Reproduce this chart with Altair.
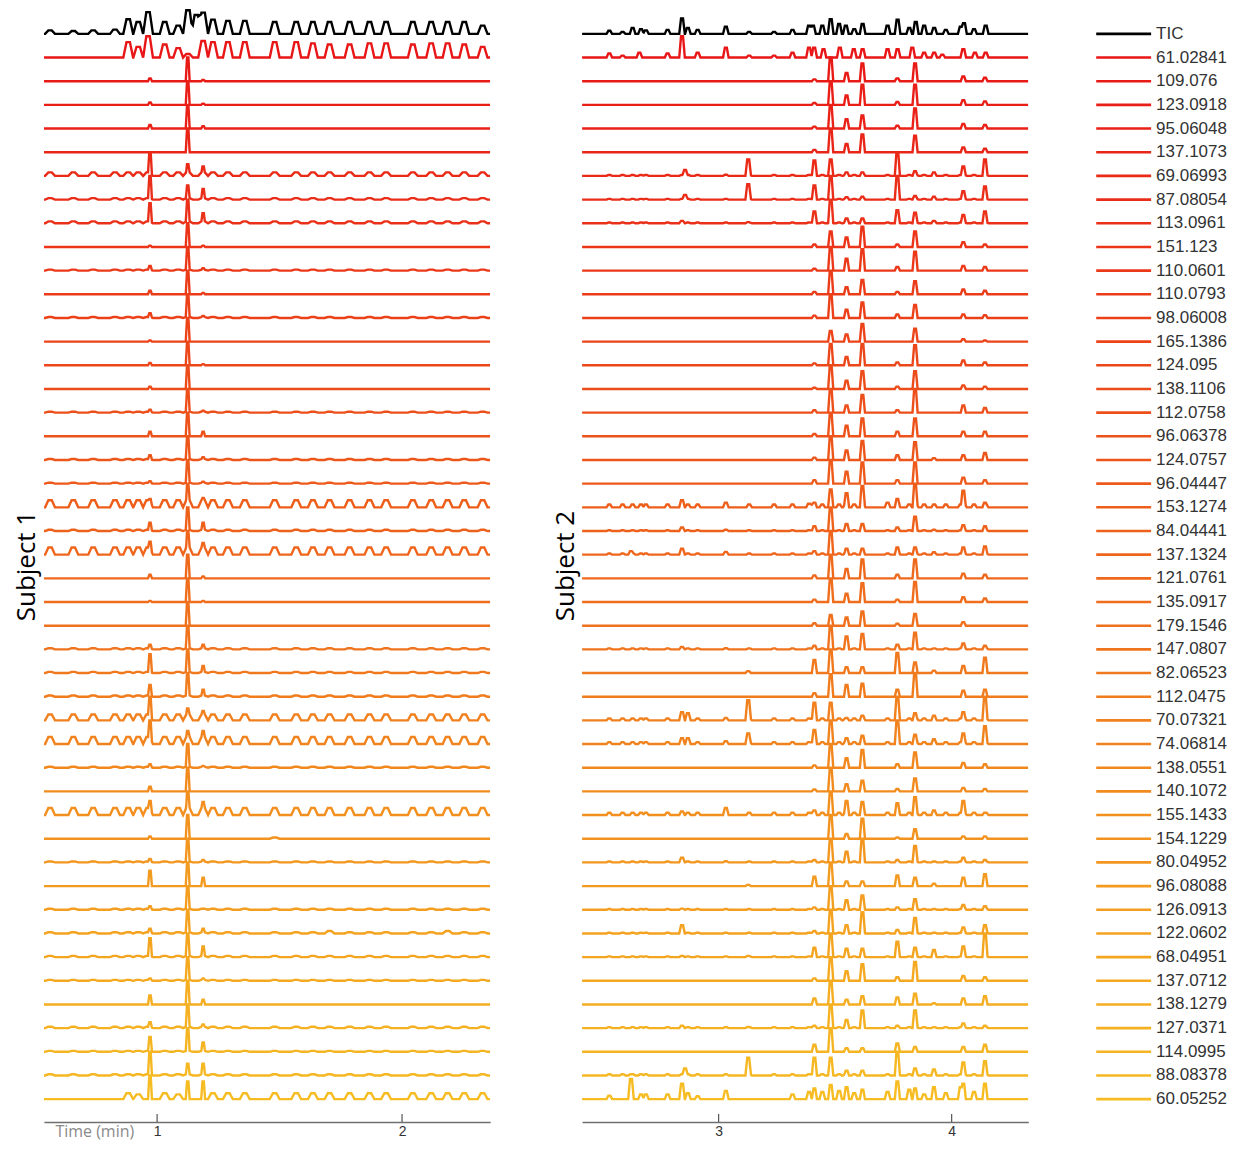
import altair as alt
import pandas as pd

# ---------------- data ----------------
LABELS = ["TIC", "61.02841", "109.076", "123.0918", "95.06048", "137.1073", "69.06993", "87.08054",
          "113.0961", "151.123", "110.0601", "110.0793", "98.06008", "165.1386", "124.095", "138.1106",
          "112.0758", "96.06378", "124.0757", "96.04447", "153.1274", "84.04441", "137.1324", "121.0761",
          "135.0917", "179.1546", "147.0807", "82.06523", "112.0475", "70.07321", "74.06814", "138.0551",
          "140.1072", "155.1433", "154.1229", "80.04952", "96.08088", "126.0913", "122.0602", "68.04951",
          "137.0712", "138.1279", "127.0371", "114.0995", "88.08378", "60.05252"]

# ---- Subject 1 (left panel) ----
LEFT_RANGE = [0.538, 2.360]
LEFT_TICKS = [1, 2]
LEFT_MAIN_TIMES = [0.971, 1.125, 1.188]
LEFT_MAIN = [
    [0, 0, 0], [0, 0, 0],
    [0.12, 1.0, 0.05], [0.10, 1.0, 0.05], [0.15, 1.0, 0.10], [0, 1.0, 0],
    [1.0, 0.5, 0.4], [1.0, 0.6, 0.45], [0.85, 1.0, 0.42], [0.05, 1.0, 0.05],
    [0.2, 1.0, 0.1], [0.15, 1.0, 0.06], [0.2, 1.0, 0.08], [0.05, 1.0, 0], [0.1, 1.0, 0.05],
    [0.1, 1.0, 0], [0.12, 1.0, 0.08], [0.2, 1.0, 0.2], [0.2, 1.0, 0.12], [0.1, 1.0, 0.08],
    [0.35, 1.0, 0.4], [0.35, 1.0, 0.35], [0.55, 1.0, 0.5], [0.15, 1.0, 0.08], [0.05, 1.0, 0.05],
    [0, 1.0, 0], [0.2, 1.0, 0.2], [0.8, 1.0, 0.3], [0.5, 1.0, 0.3], [1.0, 0.5, 0.4],
    [1.0, 0.55, 0.55], [0.15, 1.0, 0.08], [0.2, 1.0, 0], [0.6, 1.0, 0.55], [0.1, 1.0, 0],
    [0.15, 1.0, 0.1], [0.65, 1.0, 0.35], [0.15, 1.0, 0], [0.2, 1.0, 0.2], [0.8, 1.0, 0.45],
    [0.1, 1.0, 0.1], [0.38, 1.0, 0.2], [0.25, 1.0, 0.15], [0.63, 1.0, 0.4], [1.0, 0.5, 0.5],
    [1.0, 0.75, 0.75],
]
LEFT_BG_TIMES = [0.563, 0.658, 0.739, 0.828, 0.882, 0.923, 0.963, 1.031, 1.086, 1.126, 1.188, 1.228,
                 1.289, 1.358, 1.480, 1.568, 1.636, 1.704, 1.786, 1.867, 1.935, 2.044, 2.119, 2.186,
                 2.254, 2.329]
LEFT_BG_AMP = [0, 0, 0, 0, 0, 0, 0.15, 0.06, 0.08, 0, 0.04, 0, 0.04, 0, 0, 0, 0.04, 0, 0.04, 0.04,
               0.3, 0.05, 0.3, 0, 0, 0, 0.05, 0.05, 0.05, 0.25, 0.3, 0.04, 0, 0.3, 0, 0.04, 0, 0.04,
               0.05, 0.05, 0.04, 0, 0.06, 0.04, 0.05, 0]
LEFT_EXTRA = {
    0: {0.563: 0.15, 0.658: 0.12, 0.739: 0.15, 0.828: 0.18, 0.882: 0.62, 0.923: 0.5, 0.963: 0.92,
        1.031: 0.5, 1.086: 0.35, 1.126: 1.0, 1.16: 0.8, 1.188: 0.9, 1.228: 0.6, 1.289: 0.55,
        1.358: 0.55, 1.480: 0.5, 1.568: 0.5, 1.636: 0.5, 1.704: 0.5, 1.786: 0.5, 1.867: 0.5,
        1.935: 0.5, 2.044: 0.5, 2.119: 0.5, 2.186: 0.5, 2.254: 0.5, 2.329: 0.35},
    1: {0.882: 0.65, 0.923: 0.45, 0.963: 0.9, 1.031: 0.55, 1.086: 0.4, 1.126: 0.15, 1.188: 0.7,
        1.228: 0.65, 1.289: 0.65, 1.358: 0.65, 1.480: 0.65, 1.568: 0.65, 1.636: 0.6, 1.704: 0.55,
        1.786: 0.55, 1.867: 0.6, 1.935: 0.6, 2.044: 0.55, 2.119: 0.6, 2.186: 0.6, 2.254: 0.55,
        2.329: 0.45},
    34: {1.480: 0.05},
    38: {1.704: 0.1, 2.186: 0.1},
    45: {0.882: 0.25, 0.923: 0.2, 1.031: 0.25, 1.086: 0.2, 1.228: 0.25, 1.289: 0.25, 1.358: 0.25,
         1.480: 0.25, 1.568: 0.25, 1.636: 0.25, 1.704: 0.25, 1.786: 0.25, 1.867: 0.25, 1.935: 0.25,
         2.044: 0.25, 2.119: 0.25, 2.186: 0.25, 2.254: 0.25, 2.329: 0.25},
}

# ---- Subject 2 (right panel) ----
RIGHT_RANGE = [2.414, 4.329]
RIGHT_TICKS = [3, 4]
RIGHT_MAIN_TIMES = [3.411, 3.481, 3.549, 3.617, 3.767, 3.843, 3.924, 4.050, 4.143]
RIGHT_MAIN = [
    [0] * 9, [0] * 9,
    [0.08, 1.0, 0.35, 0.75, 0.12, 0.75, 0, 0.2, 0.15],
    [0.08, 1.0, 0.4, 0.85, 0.12, 0.85, 0, 0.2, 0.15],
    [0.08, 1.0, 0.4, 0.55, 0.12, 0.85, 0, 0.2, 0.15],
    [0.1, 1.0, 0.35, 0.75, 0, 0.7, 0, 0.2, 0.15],
    [0.65, 0.7, 0.15, 0.15, 1.0, 0.2, 0.15, 0.4, 0.7],
    [0.6, 1.0, 0.1, 0.12, 1.0, 0.15, 0.12, 0.35, 0.55],
    [0.5, 1.0, 0.2, 0.2, 0.55, 0.45, 0.1, 0.35, 0.5],
    [0.1, 0.65, 0.4, 0.85, 0.1, 0.65, 0, 0.2, 0.1],
    [0.08, 1.0, 0.5, 0.9, 0.15, 0.8, 0, 0.2, 0.15],
    [0.1, 1.0, 0.3, 0.6, 0.1, 0.55, 0, 0.2, 0.15],
    [0.1, 1.0, 0.35, 0.65, 0.15, 0.55, 0, 0.15, 0.12],
    [0, 0.45, 0.3, 0.75, 0, 0.55, 0, 0.1, 0.05],
    [0.08, 0.9, 0.35, 0.9, 0.12, 0.85, 0, 0.2, 0.12],
    [0.05, 1.0, 0.35, 0.75, 0.1, 0.75, 0, 0.15, 0.1],
    [0.1, 1.0, 0.3, 0.75, 0.1, 1.0, 0, 0.3, 0.2],
    [0.1, 1.0, 0.45, 0.75, 0.2, 0.75, 0, 0.2, 0.2],
    [0.1, 1.0, 0.4, 0.8, 0.2, 0.75, 0.08, 0.2, 0.3],
    [0.15, 1.0, 0.5, 0.9, 0.15, 0.9, 0, 0.25, 0.15],
    [0.2, 0.75, 0.6, 0.9, 0.35, 1.0, 0.1, 0.7, 0.2],
    [0.2, 1.0, 0.3, 0.3, 0.15, 0.6, 0.05, 0.25, 0.2],
    [0.15, 1.0, 0.25, 0.25, 0.3, 0.3, 0.1, 0.3, 0.35],
    [0.12, 1.0, 0.4, 0.8, 0.15, 0.8, 0, 0.2, 0.15],
    [0.1, 1.0, 0.35, 0.8, 0.1, 0.85, 0, 0.2, 0.15],
    [0.1, 0.45, 0.35, 0.6, 0.08, 0.5, 0, 0.15, 0],
    [0.15, 1.0, 0.55, 0.65, 0.2, 0.7, 0, 0.25, 0.15],
    [0.55, 1.0, 0.25, 0.25, 0.85, 0.45, 0.1, 0.3, 0.65],
    [0.15, 0.95, 0.5, 0.55, 0.3, 1.0, 0, 0.25, 0.3],
    [0.75, 0.75, 0.1, 0.2, 1.0, 0.3, 0.2, 0.35, 1.0],
    [0.6, 1.0, 0.25, 0.35, 1.0, 0.4, 0.2, 0.45, 0.75],
    [0.1, 1.0, 0.4, 0.75, 0.15, 0.65, 0, 0.2, 0.15],
    [0.08, 1.0, 0.3, 0.45, 0.1, 0.55, 0, 0.15, 0.1],
    [0.2, 1.0, 0.6, 0.55, 0.5, 0.75, 0.2, 0.6, 0.1],
    [0, 1.0, 0.2, 0.85, 0.05, 0.4, 0, 0.1, 0.1],
    [0.1, 1.0, 0.45, 1.0, 0.1, 0.7, 0, 0.2, 0.1],
    [0.4, 1.0, 0.2, 0.2, 0.45, 0.35, 0.1, 0.35, 0.5],
    [0.1, 1.0, 0.4, 0.6, 0.1, 0.45, 0, 0.2, 0.15],
    [0.1, 1.0, 0.35, 0.9, 0.15, 0.65, 0, 0.25, 0.35],
    [0.4, 1.0, 0.35, 0.35, 0.65, 0.4, 0.3, 0.45, 1.0],
    [0.1, 1.0, 0.4, 0.7, 0.15, 0.8, 0, 0.2, 0.15],
    [0.25, 1.0, 0.2, 0.35, 0.3, 0.45, 0.05, 0.25, 0.35],
    [0.1, 1.0, 0.35, 0.75, 0.1, 0.75, 0, 0.2, 0.1],
    [0.3, 1.0, 0.15, 0.15, 0.35, 0.2, 0, 0.2, 0.3],
    [0.75, 0.75, 0.2, 0.2, 1.0, 0.3, 0.25, 0.55, 0.6],
    [0.45, 0.6, 0.5, 0.4, 0.75, 0.45, 0.5, 0.65, 0.65],
]
RIGHT_BG_TIMES = [2.531, 2.588, 2.631, 2.667, 2.688, 2.781, 2.843, 2.868, 2.910, 3.031, 3.131, 3.238,
                  3.317, 3.388, 3.405, 3.445, 3.481, 3.517, 3.546, 3.582, 3.618, 3.725, 3.768, 3.818,
                  3.846, 3.882, 3.925, 3.975, 4.039, 4.053, 4.096, 4.146]
RIGHT_BG_AMP = [0, 0, 0, 0, 0, 0, 0.04, 0.03, 0.03, 0, 0, 0, 0, 0, 0, 0, 0, 0, 0, 0, 0.12, 0.03, 0.05,
                0, 0, 0, 0.04, 0, 0, 0.08, 0.08, 0, 0, 0.1, 0, 0.04, 0, 0.03, 0.03, 0.03, 0, 0, 0.04,
                0, 0.05, 0]
RIGHT_EXTRA = {
    0: {2.531: 0.13, 2.588: 0.08, 2.631: 0.25, 2.667: 0.2, 2.688: 0.15, 2.781: 0.17, 2.843: 0.65,
        2.868: 0.25, 2.910: 0.17, 3.031: 0.3, 3.131: 0.08, 3.238: 0.08, 3.317: 0.17, 3.388: 0.35,
        3.405: 0.35, 3.445: 0.35, 3.481: 0.62, 3.517: 0.42, 3.546: 0.35, 3.582: 0.2, 3.618: 0.42,
        3.725: 0.35, 3.768: 0.6, 3.818: 0.25, 3.846: 0.5, 3.882: 0.35, 3.925: 0.25, 3.975: 0.17,
        4.039: 0.3, 4.053: 0.45, 4.096: 0.2, 4.146: 0.35},
    1: {2.531: 0.17, 2.588: 0.08, 2.660: 0.2, 2.781: 0.17, 2.843: 0.9, 2.910: 0.2, 3.031: 0.42,
        3.131: 0.08, 3.238: 0.08, 3.317: 0.2, 3.388: 0.42, 3.410: 0.42, 3.450: 0.35, 3.520: 0.42,
        3.580: 0.35, 3.618: 0.35, 3.725: 0.35, 3.768: 0.35, 3.831: 0.42, 3.882: 0.2, 3.925: 0.2,
        3.960: 0.12, 4.050: 0.35, 4.100: 0.2, 4.146: 0.2},
    6: {2.856: 0.25, 3.031: 0.05, 3.127: 0.7},
    7: {2.856: 0.2, 3.127: 0.65},
    8: {2.843: 0.1, 3.127: 0.05},
    20: {2.843: 0.3, 2.910: 0.1, 3.031: 0.2, 3.388: 0.15, 3.725: 0.2},
    21: {2.843: 0.15, 3.031: 0.05},
    22: {2.624: 0.15, 2.843: 0.25, 3.031: 0.12},
    26: {2.843: 0.1, 3.031: 0.05},
    27: {3.127: 0.08},
    29: {2.843: 0.35, 2.868: 0.3, 3.031: 0.1, 3.127: 0.85},
    30: {2.843: 0.25, 2.868: 0.25, 3.031: 0.12, 3.127: 0.45},
    33: {2.843: 0.15, 3.031: 0.3, 3.725: 0.1},
    35: {2.843: 0.2, 3.031: 0.05},
    36: {3.127: 0.05},
    37: {2.843: 0.05},
    38: {2.843: 0.35},
    39: {2.843: 0.05, 3.127: 0.05},
    42: {2.843: 0.1, 3.127: 0.05},
    44: {2.624: 0.05, 2.856: 0.3, 3.127: 0.75},
    45: {2.531: 0.15, 2.624: 0.85, 2.667: 0.2, 2.688: 0.2, 2.781: 0.2, 2.843: 0.65, 2.868: 0.25,
         2.910: 0.12, 3.031: 0.35, 3.317: 0.2, 3.388: 0.3, 3.445: 0.3, 3.517: 0.35, 3.582: 0.25,
         3.725: 0.3, 3.818: 0.4, 3.882: 0.2, 3.975: 0.25, 4.039: 0.5, 4.096: 0.3},
}

# ---------------- styling ----------------
N = len(LABELS)
TOP_RGB, BOTTOM_RGB = (232, 22, 22), (246, 188, 34)
COLORS = ["#000000"] + [
    "#%02x%02x%02x" % tuple(round(a + (b - a) * i / (N - 2)) for a, b in zip(TOP_RGB, BOTTOM_RGB))
    for i in range(N - 1)
]
KEYS = ["r%02d" % k for k in range(N)]
H = 1115
W = 447
Y_DOMAIN = [-0.970, 46.054]


def trace_table(main_times, main, bg_times, bg_amp, extra, w_main, w_bg, w_extra, rng):
    recs = []
    for k in range(N):
        peaks = [(t, h, w_main) for t, h in zip(main_times, main[k]) if h > 0]
        if bg_amp[k] > 0:
            peaks += [(t, bg_amp[k], w_bg) for t in bg_times]
        peaks += [(t, h, w_extra) for t, h in extra.get(k, {}).items()]
        verts = {rng[0], rng[1]}
        for t, h, w in peaks:
            verts |= {t - w, t - 0.35 * w, t + 0.35 * w, t + w}
        for v in sorted(verts):
            if v < rng[0] or v > rng[1]:
                continue
            y = 0.0
            for t, h, w in peaks:
                d = abs(v - t)
                if d < w:
                    val = h if d <= 0.35 * w + 1e-9 else h * (w - d) / (0.65 * w)
                    y = max(y, val)
            recs.append({"t": v, "y": (N - 1 - k) + y, "key": KEYS[k]})
    return pd.DataFrame(recs)


left_df = trace_table(LEFT_MAIN_TIMES, LEFT_MAIN, LEFT_BG_TIMES, LEFT_BG_AMP, LEFT_EXTRA,
                      0.008, 0.02, 0.02, LEFT_RANGE)
right_df = trace_table(RIGHT_MAIN_TIMES, RIGHT_MAIN, RIGHT_BG_TIMES, RIGHT_BG_AMP, RIGHT_EXTRA,
                       0.011, 0.012, 0.012, RIGHT_RANGE)

color = alt.Color("key:N", scale=alt.Scale(domain=KEYS, range=COLORS), legend=None)
ys = alt.Scale(domain=Y_DOMAIN, nice=False, zero=False)


def panel(df, rng, ticks, subject, xtitle):
    xs = alt.Scale(domain=rng, nice=False, zero=False)
    axis_kw = dict(values=ticks, format="d", ticks=False, grid=False, domainColor="#6f6f6f",
                   domainWidth=1.5, labelFont="Liberation Sans", labelFontSize=14,
                   labelColor="#333333", labelPadding=2)
    if xtitle:
        axis_kw.update(title=xtitle, titleFont="Open Sans", titleFontSize=16,
                       titleFontWeight="normal", titleColor="#8a8a8a", titleX=11, titleY=1,
                       titleAlign="left", titleBaseline="top")
    else:
        axis_kw.update(title=None)
    xaxis = alt.Axis(**axis_kw)
    yaxis = alt.Axis(title=subject, domain=False, ticks=False, labels=False, grid=False,
                     titleFont="Open Sans", titleFontSize=26, titleFontWeight="normal",
                     titleColor="#000000", titlePadding=4)
    lines = alt.Chart(df).mark_line(strokeWidth=2.4, clip=True).encode(
        x=alt.X("t:Q", scale=xs, axis=xaxis),
        y=alt.Y("y:Q", scale=ys, axis=yaxis),
        color=color,
        detail="key:N",
    )
    tick_marks = alt.Chart(pd.DataFrame({"t": ticks})).mark_rule(color="#555555", strokeWidth=1.2).encode(
        x=alt.X("t:Q", scale=xs, axis=xaxis),
        y=alt.value(H - 8),
        y2=alt.value(H),
    )
    return alt.layer(lines, tick_marks).properties(width=W, height=H)


left = panel(left_df, LEFT_RANGE, LEFT_TICKS, "Subject 1", "Time (min)")
right = panel(right_df, RIGHT_RANGE, RIGHT_TICKS, "Subject 2", None)

leg_df = pd.DataFrame({"key": KEYS, "label": LABELS, "v": [N - 1 - k for k in range(N)]})
leg_rules = alt.Chart(leg_df).mark_rule(strokeWidth=2.6).encode(
    x=alt.value(15), x2=alt.value(70),
    y=alt.Y("v:Q", scale=ys, axis=None),
    color=color,
)
leg_text = alt.Chart(leg_df).mark_text(align="left", baseline="middle", font="Liberation Sans",
                                       fontSize=17, color="#333333").encode(
    x=alt.value(75),
    y=alt.Y("v:Q", scale=ys, axis=None),
    text="label:N",
)
legend = alt.layer(leg_rules, leg_text).properties(width=140, height=H)

panels = alt.hconcat(left, right, spacing=62)
chart = alt.hconcat(panels, legend, spacing=53).properties(
    padding={"left": 6, "top": 0, "right": 0, "bottom": 0}
).configure_view(stroke=None)

chart.save("out.html", embed_options={"renderer": "svg", "actions": False})
